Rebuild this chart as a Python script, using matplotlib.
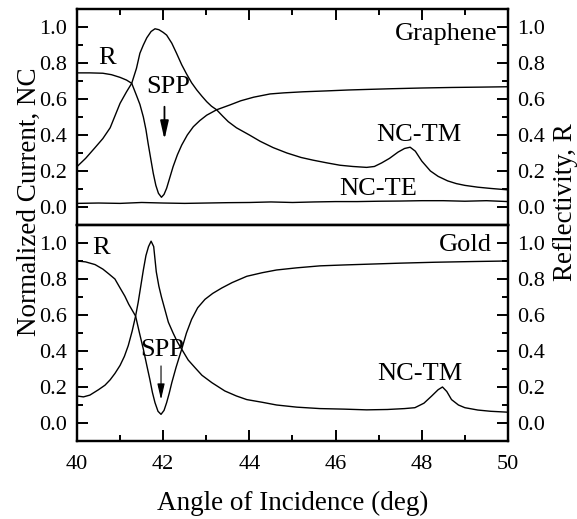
import matplotlib
matplotlib.use("Agg")
import matplotlib.pyplot as plt
from matplotlib.ticker import MultipleLocator

# Graphene: normalized current (TM)
g_nc_angle = [40.0, 40.2, 40.42, 40.6, 40.77, 41.0, 41.15, 41.27, 41.38, 41.46,
              41.54, 41.62, 41.72, 41.81, 41.9, 42.0, 42.08, 42.2, 42.31, 42.43,
              42.54, 42.66, 42.78, 42.9, 43.01, 43.12, 43.24, 43.38, 43.51, 43.7,
              44.0, 44.25, 44.55, 44.87, 45.2, 45.48, 45.8, 46.1, 46.4, 46.72,
              46.9, 47.07, 47.25, 47.45, 47.6, 47.73, 47.85, 48.0, 48.2, 48.38,
              48.6, 48.8, 49.0, 49.3, 49.6, 50.0]
g_nc_tm = [0.224, 0.27, 0.33, 0.38, 0.44, 0.576, 0.64, 0.687, 0.77, 0.854,
           0.90, 0.94, 0.975, 0.99, 0.985, 0.97, 0.955, 0.91, 0.854, 0.79,
           0.74, 0.69, 0.65, 0.615, 0.585, 0.56, 0.54, 0.505, 0.474, 0.44,
           0.40, 0.365, 0.33, 0.30, 0.275, 0.26, 0.245, 0.232, 0.225, 0.22,
           0.225, 0.245, 0.27, 0.305, 0.325, 0.332, 0.31, 0.255, 0.20, 0.17,
           0.145, 0.13, 0.12, 0.11, 0.103, 0.095]

# Graphene: normalized current (TE)
g_te_angle = [40.0, 40.5, 41.0, 41.5, 42.0, 42.5, 43.0, 43.5, 44.0, 44.5, 45.0,
              45.5, 46.0, 46.5, 47.0, 47.5, 48.0, 48.5, 49.0, 49.5, 50.0]
g_nc_te = [0.02, 0.022, 0.02, 0.025, 0.022, 0.02, 0.022, 0.024, 0.025, 0.028,
           0.025, 0.028, 0.03, 0.03, 0.032, 0.033, 0.035, 0.035, 0.032, 0.035, 0.03]

# Graphene: reflectivity
g_r_angle = [40.0, 40.3, 40.6, 40.8, 41.0, 41.15, 41.27, 41.38, 41.46, 41.54,
             41.6, 41.65, 41.71, 41.77, 41.83, 41.89, 41.96, 42.02, 42.08, 42.15,
             42.23, 42.33, 42.43, 42.56, 42.7, 42.85, 43.01, 43.24, 43.55, 43.8,
             44.1, 44.48, 44.8, 45.25, 45.8, 46.3, 46.72, 47.3, 48.0, 48.7, 49.4, 50.0]
g_r = [0.745, 0.745, 0.743, 0.735, 0.72, 0.705, 0.687, 0.62, 0.57, 0.50,
       0.43, 0.354, 0.27, 0.187, 0.12, 0.076, 0.054, 0.07, 0.104, 0.16,
       0.224, 0.29, 0.344, 0.40, 0.446, 0.48, 0.51, 0.54, 0.567, 0.59,
       0.61, 0.628, 0.634, 0.64, 0.645, 0.65, 0.653, 0.657, 0.661, 0.664, 0.666, 0.668]

# Gold: normalized current (TM)
a_nc_angle = [40.0, 40.15, 40.3, 40.5, 40.65, 40.77, 40.88, 41.0, 41.1, 41.19,
              41.28, 41.36, 41.42, 41.48, 41.54, 41.6, 41.66, 41.72, 41.78, 41.84,
              41.9, 41.96, 42.04, 42.12, 42.23, 42.33, 42.43, 42.58, 42.74, 42.9,
              43.13, 43.43, 43.7, 43.94, 44.3, 44.63, 45.1, 45.64, 46.2, 46.72,
              47.2, 47.6, 47.84, 48.05, 48.23, 48.38, 48.48, 48.58, 48.69, 48.85,
              49.0, 49.3, 49.6, 50.0]
a_nc_tm = [0.15, 0.145, 0.155, 0.185, 0.21, 0.24, 0.275, 0.32, 0.37, 0.43,
           0.51, 0.594, 0.67, 0.76, 0.85, 0.93, 0.98, 1.01, 0.98, 0.84,
           0.76, 0.70, 0.63, 0.56, 0.50, 0.45, 0.41, 0.35, 0.307, 0.265,
           0.224, 0.178, 0.15, 0.13, 0.115, 0.10, 0.088, 0.08, 0.077, 0.073,
           0.075, 0.08, 0.085, 0.11, 0.15, 0.185, 0.20, 0.175, 0.13, 0.10,
           0.085, 0.072, 0.065, 0.06]

# Gold: reflectivity
a_r_angle = [40.0, 40.2, 40.42, 40.6, 40.73, 40.88, 41.0, 41.11, 41.2, 41.36,
             41.45, 41.54, 41.62, 41.69, 41.75, 41.81, 41.88, 41.95, 42.02, 42.08,
             42.14, 42.2, 42.3, 42.43, 42.54, 42.66, 42.8, 42.97, 43.15, 43.36,
             43.6, 43.94, 44.3, 44.63, 45.1, 45.64, 46.2, 46.72, 47.5, 48.3, 49.2, 50.0]
a_r = [0.90, 0.895, 0.88, 0.855, 0.83, 0.80, 0.75, 0.705, 0.66, 0.594,
       0.50, 0.41, 0.32, 0.243, 0.17, 0.113, 0.065, 0.048, 0.07, 0.113,
       0.165, 0.224, 0.31, 0.41, 0.50, 0.576, 0.64, 0.687, 0.72, 0.75,
       0.78, 0.815, 0.835, 0.85, 0.862, 0.873, 0.878, 0.882, 0.888, 0.893, 0.897, 0.90]

plt.rcParams["font.family"] = ["Liberation Serif", "DejaVu Serif"]

TICK_FS = 16
TEXT_FS = 19
LABEL_FS = 19.5

fig = plt.figure(figsize=(5.77, 5.19), dpi=100)
ax_top = fig.add_axes([0.1334, 0.5665, 0.747, 0.4162])
ax_bot = fig.add_axes([0.1334, 0.1503, 0.747, 0.4162], sharex=ax_top)
tw_top = ax_top.twinx()
tw_bot = ax_bot.twinx()


def style(ax, tw, top_panel):
    ax.set_xlim(40, 50)
    for a in (ax, tw):
        a.set_ylim(-0.1, 1.1)
        a.yaxis.set_major_locator(MultipleLocator(0.2))
        a.yaxis.set_minor_locator(MultipleLocator(0.1))
        a.yaxis.set_major_formatter(plt.FormatStrFormatter("%.1f"))
        for sp in a.spines.values():
            sp.set_linewidth(1.6)
    ax.xaxis.set_major_locator(MultipleLocator(2))
    ax.xaxis.set_minor_locator(MultipleLocator(1))
    ax.tick_params(axis="both", which="both", direction="in", width=1.4,
                   labelsize=TICK_FS, right=False)
    ax.tick_params(axis="both", which="major", length=8)
    ax.tick_params(axis="both", which="minor", length=4.5)
    ax.tick_params(axis="y", which="both", pad=7)
    tw.tick_params(axis="y", which="both", direction="in", width=1.4,
                   labelsize=TICK_FS, pad=6.5)
    tw.tick_params(axis="y", which="major", length=8)
    tw.tick_params(axis="y", which="minor", length=4.5)
    if top_panel:
        ax.tick_params(axis="x", which="both", top=True, bottom=False,
                       labelbottom=False)
    else:
        ax.tick_params(axis="x", which="both", top=False, bottom=True,
                       pad=10)


style(ax_top, tw_top, True)
style(ax_bot, tw_bot, False)

lw = 1.0
ax_top.plot(g_nc_angle, g_nc_tm, color="black", lw=lw)
ax_top.plot(g_te_angle, g_nc_te, color="black", lw=lw)
tw_top.plot(g_r_angle, g_r, color="black", lw=lw)

ax_bot.plot(a_nc_angle, a_nc_tm, color="black", lw=lw)
tw_bot.plot(a_r_angle, a_r, color="black", lw=lw)

# annotations, top panel
tw_top.text(40.7, 0.83, "R", fontsize=TEXT_FS, ha="center", va="center")
tw_top.text(42.12, 0.664, "SPP", fontsize=TEXT_FS, ha="center", va="center")
tw_top.annotate("", xy=(42.03, 0.375), xytext=(42.03, 0.557),
                arrowprops=dict(arrowstyle="-|>,head_length=1.1,head_width=0.25",
                                color="black", lw=1.3, shrinkA=0, shrinkB=0))
tw_top.text(49.75, 0.96, "Graphene", fontsize=TEXT_FS, ha="right", va="center")
tw_top.text(47.93, 0.40, "NC-TM", fontsize=TEXT_FS, ha="center", va="center")
tw_top.text(46.99, 0.10, "NC-TE", fontsize=TEXT_FS, ha="center", va="center")

# annotations, bottom panel
tw_bot.text(40.56, 0.97, "R", fontsize=TEXT_FS, ha="center", va="center")
tw_bot.text(41.98, 0.405, "SPP", fontsize=TEXT_FS, ha="center", va="center")
tw_bot.annotate("", xy=(41.95, 0.13), xytext=(41.95, 0.317),
                arrowprops=dict(arrowstyle="-|>,head_length=0.95,head_width=0.22",
                                color="black", lw=0.8, shrinkA=0, shrinkB=0))
tw_bot.text(49.63, 0.99, "Gold", fontsize=TEXT_FS, ha="right", va="center")
tw_bot.text(47.95, 0.27, "NC-TM", fontsize=TEXT_FS, ha="center", va="center")

fig.text(0.507, 1 - 503 / 519, "Angle of Incidence (deg)", fontsize=LABEL_FS,
         ha="center", va="center")
fig.text(29 / 577, 1 - 202 / 519, "Normalized Current, NC", fontsize=LABEL_FS,
         rotation=90, ha="center", va="center")
fig.text(566 / 577, 1 - 202 / 519, "Reflectivity, R", fontsize=LABEL_FS,
         rotation=90, ha="center", va="center")

fig.savefig("out.png", dpi=100)
